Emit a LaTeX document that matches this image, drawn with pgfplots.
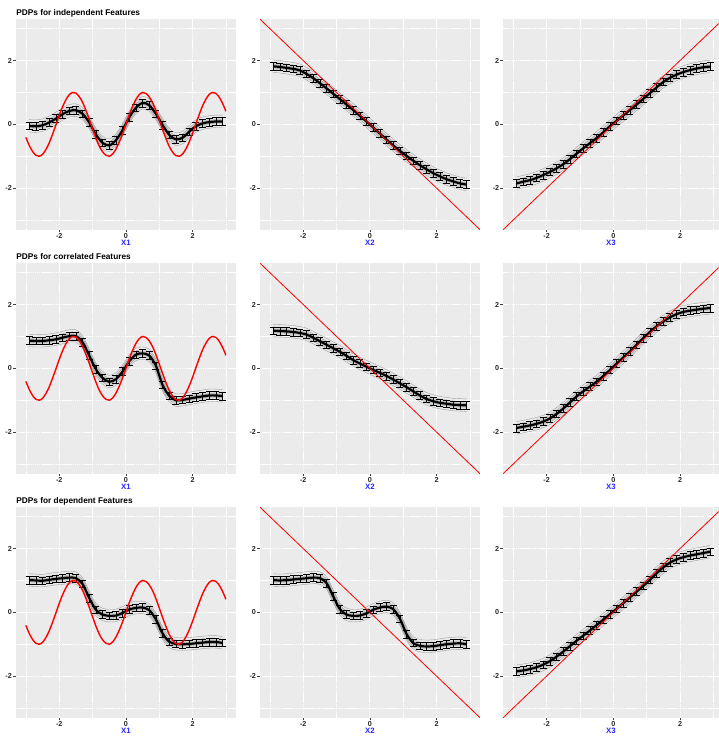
\documentclass[border=0pt]{standalone}
\usepackage{pgfplots}
\pgfplotsset{compat=1.18}
\usepackage{pgfplotstable}
\usepackage{fontspec}
\setmainfont{Liberation Sans}
\definecolor{panelbg}{HTML}{EBEBEB}
\definecolor{xblue}{RGB}{40,40,255}
\definecolor{ggred}{HTML}{FF0000}

\pgfplotstableread{
x y
-2.9 -0.05
-2.7 -0.06
-2.5 -0.03
-2.3 0.06
-2.1 0.18
-1.9 0.32
-1.7 0.42
-1.5 0.44
-1.3 0.33
-1.1 0.06
-0.9 -0.32
-0.7 -0.58
-0.5 -0.66
-0.3 -0.50
-0.1 -0.18
0.1 0.22
0.3 0.52
0.5 0.67
0.7 0.60
0.9 0.33
1.1 -0.02
1.3 -0.33
1.5 -0.47
1.7 -0.42
1.9 -0.23
2.1 -0.06
2.3 0.03
2.5 0.07
2.7 0.09
2.9 0.09
}\tA
\pgfplotstableread{
x y
-2.9 1.82
-2.7 1.80
-2.5 1.77
-2.3 1.74
-2.1 1.69
-1.9 1.58
-1.7 1.45
-1.5 1.29
-1.3 1.13
-1.1 0.96
-0.9 0.79
-0.7 0.62
-0.5 0.45
-0.3 0.27
-0.1 0.09
0.1 -0.10
0.3 -0.29
0.5 -0.48
0.7 -0.66
0.9 -0.83
1.1 -0.99
1.3 -1.14
1.5 -1.28
1.7 -1.41
1.9 -1.53
2.1 -1.63
2.3 -1.72
2.5 -1.79
2.7 -1.85
2.9 -1.89
}\tB
\pgfplotstableread{
x y
-2.9 -1.85
-2.7 -1.80
-2.5 -1.75
-2.3 -1.68
-2.1 -1.59
-1.9 -1.49
-1.7 -1.38
-1.5 -1.25
-1.3 -1.09
-1.1 -0.92
-0.9 -0.75
-0.7 -0.59
-0.5 -0.43
-0.3 -0.25
-0.1 -0.06
0.1 0.11
0.3 0.28
0.5 0.45
0.7 0.62
0.9 0.80
1.1 0.98
1.3 1.16
1.5 1.33
1.7 1.46
1.9 1.56
2.1 1.64
2.3 1.70
2.5 1.75
2.7 1.79
2.9 1.81
}\tC
\pgfplotstableread{
x y
-2.9 0.87
-2.7 0.86
-2.5 0.86
-2.3 0.88
-2.1 0.91
-1.9 0.96
-1.7 1.01
-1.5 1.01
-1.3 0.82
-1.1 0.40
-0.9 -0.03
-0.7 -0.30
-0.5 -0.42
-0.3 -0.34
-0.1 -0.10
0.1 0.22
0.3 0.43
0.5 0.47
0.7 0.40
0.9 0.08
1.1 -0.52
1.3 -0.86
1.5 -1.00
1.7 -0.99
1.9 -0.95
2.1 -0.91
2.3 -0.88
2.5 -0.85
2.7 -0.85
2.9 -0.87
}\tD
\pgfplotstableread{
x y
-2.9 1.18
-2.7 1.17
-2.5 1.16
-2.3 1.14
-2.1 1.11
-1.9 1.06
-1.7 0.96
-1.5 0.85
-1.3 0.74
-1.1 0.63
-0.9 0.52
-0.7 0.39
-0.5 0.26
-0.3 0.15
-0.1 0.05
0.1 -0.05
0.3 -0.14
0.5 -0.24
0.7 -0.35
0.9 -0.47
1.1 -0.59
1.3 -0.72
1.5 -0.85
1.7 -0.96
1.9 -1.03
2.1 -1.08
2.3 -1.11
2.5 -1.14
2.7 -1.15
2.9 -1.16
}\tE
\pgfplotstableread{
x y
-2.9 -1.87
-2.7 -1.83
-2.5 -1.79
-2.3 -1.74
-2.1 -1.67
-1.9 -1.57
-1.7 -1.43
-1.5 -1.26
-1.3 -1.07
-1.1 -0.88
-0.9 -0.72
-0.7 -0.57
-0.5 -0.42
-0.3 -0.24
-0.1 -0.05
0.1 0.15
0.3 0.34
0.5 0.53
0.7 0.74
0.9 0.95
1.1 1.14
1.3 1.32
1.5 1.47
1.7 1.60
1.9 1.70
2.1 1.77
2.3 1.81
2.5 1.84
2.7 1.87
2.9 1.89
}\tF
\pgfplotstableread{
x y
-2.9 1.01
-2.7 1.00
-2.5 0.99
-2.3 1.02
-2.1 1.05
-1.9 1.07
-1.7 1.09
-1.5 1.07
-1.3 0.89
-1.1 0.45
-0.9 0.08
-0.7 -0.07
-0.5 -0.11
-0.3 -0.10
-0.1 -0.02
0.1 0.09
0.3 0.14
0.5 0.15
0.7 0.07
0.9 -0.22
1.1 -0.66
1.3 -0.92
1.5 -0.99
1.7 -1.00
1.9 -0.99
2.1 -0.97
2.3 -0.95
2.5 -0.93
2.7 -0.93
2.9 -0.96
}\tG
\pgfplotstableread{
x y
-2.9 1.01
-2.7 1.00
-2.5 1.01
-2.3 1.03
-2.1 1.05
-1.9 1.07
-1.7 1.09
-1.5 1.07
-1.3 0.92
-1.1 0.50
-0.9 0.10
-0.7 -0.07
-0.5 -0.11
-0.3 -0.10
-0.1 -0.03
0.1 0.08
0.3 0.15
0.5 0.18
0.7 0.10
0.9 -0.20
1.1 -0.68
1.3 -0.96
1.5 -1.05
1.7 -1.07
1.9 -1.06
2.1 -1.03
2.3 -1.00
2.5 -0.98
2.7 -0.97
2.9 -1.00
}\tH
\pgfplotstableread{
x y
-2.9 -1.85
-2.7 -1.82
-2.5 -1.78
-2.3 -1.72
-2.1 -1.64
-1.9 -1.53
-1.7 -1.39
-1.5 -1.23
-1.3 -1.06
-1.1 -0.89
-0.9 -0.73
-0.7 -0.57
-0.5 -0.40
-0.3 -0.23
-0.1 -0.06
0.1 0.11
0.3 0.29
0.5 0.47
0.7 0.65
0.9 0.83
1.1 1.02
1.3 1.23
1.5 1.41
1.7 1.56
1.9 1.66
2.1 1.73
2.3 1.78
2.5 1.82
2.7 1.86
2.9 1.90
}\tI
% true function sin(3x), values read at step 0.1
\pgfplotstableread{
x y
-3.0 -0.41
-2.9 -0.66
-2.8 -0.85
-2.7 -0.97
-2.6 -1.00
-2.5 -0.94
-2.4 -0.79
-2.3 -0.58
-2.2 -0.31
-2.1 -0.02
-2.0 0.28
-1.9 0.55
-1.8 0.77
-1.7 0.93
-1.6 1.00
-1.5 0.98
-1.4 0.87
-1.3 0.69
-1.2 0.44
-1.1 0.16
-1.0 -0.14
-0.9 -0.43
-0.8 -0.68
-0.7 -0.86
-0.6 -0.97
-0.5 -1.00
-0.4 -0.93
-0.3 -0.78
-0.2 -0.56
-0.1 -0.30
0.0 0.00
0.1 0.30
0.2 0.56
0.3 0.78
0.4 0.93
0.5 1.00
0.6 0.97
0.7 0.86
0.8 0.68
0.9 0.43
1.0 0.14
1.1 -0.16
1.2 -0.44
1.3 -0.69
1.4 -0.87
1.5 -0.98
1.6 -1.00
1.7 -0.93
1.8 -0.77
1.9 -0.55
2.0 -0.28
2.1 0.02
2.2 0.31
2.3 0.58
2.4 0.79
2.5 0.94
2.6 1.00
2.7 0.97
2.8 0.85
2.9 0.66
3.0 0.41
}\tSin

\pgfplotsset{
  panel/.style={
    scale only axis, width=220pt, height=210.5pt,
    xmin=-3.3, xmax=3.3, ymin=-3.3, ymax=3.3,
    axis background/.style={fill=panelbg},
    axis line style={draw=none},
    xtick={-2,0,2}, ytick={-2,0,2},
    minor xtick={-3,-1,1,3}, minor ytick={-3,-1,1,3},
    grid=both,
    major grid style={white, line width=0.9pt, dash pattern=on 1.5pt off 0.6pt},
    minor grid style={white, line width=0.5pt, dash pattern=on 1.5pt off 0.6pt},
    tick pos=left, tick align=outside,
    major tick length=2.8pt, minor tick length=0pt,
    tick style={draw=black!75, line width=0.5pt},
    /pgf/number format/assume math mode=true,
    ticklabel style={font=\bfseries\fontsize{7.2}{8}\selectfont, text=black!85},
    xticklabel style={inner sep=1pt},
    yticklabel style={inner sep=1pt},
    every axis x label/.style={at={(axis description cs:0.5,0)}, anchor=center, yshift=-13.2pt,
      font=\bfseries\fontsize{7.8}{8}\selectfont, text=xblue},
    every axis title/.style={at={(axis description cs:0,1)}, anchor=base west, yshift=4pt, xshift=0.3pt,
      font=\bfseries\fontsize{8.3}{10}\selectfont, inner sep=0pt},
    clip=true,
  },
  gline/.style={black!45, opacity=0.8, line width=0.4pt, smooth, forget plot},
}
\newcommand{\pdp}[1]{%
  \addplot[black!25, line width=6pt, opacity=0.6, smooth, forget plot] table {#1};
  \addplot[gline] table[y expr=\thisrow{y}+0.2] {#1};
  \addplot[gline] table[y expr=\thisrow{y}+0.12] {#1};
  \addplot[gline] table[y expr=\thisrow{y}+0.05] {#1};
  \addplot[gline] table[y expr=\thisrow{y}-0.05] {#1};
  \addplot[gline] table[y expr=\thisrow{y}-0.12] {#1};
  \addplot[gline] table[y expr=\thisrow{y}-0.19] {#1};
  \addplot[black, line width=2.2pt, smooth] table {#1};
  \addplot[draw=none, forget plot, error bars/.cd, y dir=both, y fixed=0.12,
    error bar style={draw=black, line width=0.6pt},
    error mark options={rotate=90, draw=black, mark size=3.5pt, line width=0.6pt}] table {#1};
}

\begin{document}
\begin{tikzpicture}
\useasboundingbox (0,0) rectangle (719pt,740pt);
% row 1
\begin{axis}[panel, at={(15.9pt,510.4pt)}, anchor=south west, xlabel={X1}, title={PDPs for independent Features}]
\pdp{\tA}
\addplot[ggred, line width=1.4pt, smooth] table {\tSin};
\end{axis}
\begin{axis}[panel, at={(259.9pt,510.4pt)}, anchor=south west, xlabel={X2}]
\pdp{\tB}
\addplot[ggred, line width=0.8pt] coordinates {(-3.5,3.5) (3.5,-3.5)};
\end{axis}
\begin{axis}[panel, at={(503.2pt,510.4pt)}, anchor=south west, xlabel={X3}, xmax=3.16, width=215.5pt]
\pdp{\tC}
\addplot[ggred, line width=0.8pt] coordinates {(-3.5,-3.5) (3.5,3.5)};
\end{axis}
% row 2
\begin{axis}[panel, at={(15.9pt,266.4pt)}, anchor=south west, xlabel={X1}, title={PDPs for correlated Features}]
\pdp{\tD}
\addplot[ggred, line width=1.4pt, smooth] table {\tSin};
\end{axis}
\begin{axis}[panel, at={(259.9pt,266.4pt)}, anchor=south west, xlabel={X2}]
\pdp{\tE}
\addplot[ggred, line width=0.8pt] coordinates {(-3.5,3.5) (3.5,-3.5)};
\end{axis}
\begin{axis}[panel, at={(503.2pt,266.4pt)}, anchor=south west, xlabel={X3}, xmax=3.16, width=215.5pt]
\pdp{\tF}
\addplot[ggred, line width=0.8pt] coordinates {(-3.5,-3.5) (3.5,3.5)};
\end{axis}
% row 3
\begin{axis}[panel, at={(15.9pt,22.4pt)}, anchor=south west, xlabel={X1}, title={PDPs for dependent Features}]
\pdp{\tG}
\addplot[ggred, line width=1.4pt, smooth] table {\tSin};
\end{axis}
\begin{axis}[panel, at={(259.9pt,22.4pt)}, anchor=south west, xlabel={X2}]
\pdp{\tH}
\addplot[ggred, line width=0.8pt] coordinates {(-3.5,3.5) (3.5,-3.5)};
\end{axis}
\begin{axis}[panel, at={(503.2pt,22.4pt)}, anchor=south west, xlabel={X3}, xmax=3.16, width=215.5pt]
\pdp{\tI}
\addplot[ggred, line width=0.8pt] coordinates {(-3.5,-3.5) (3.5,3.5)};
\end{axis}
\end{tikzpicture}
\end{document}
